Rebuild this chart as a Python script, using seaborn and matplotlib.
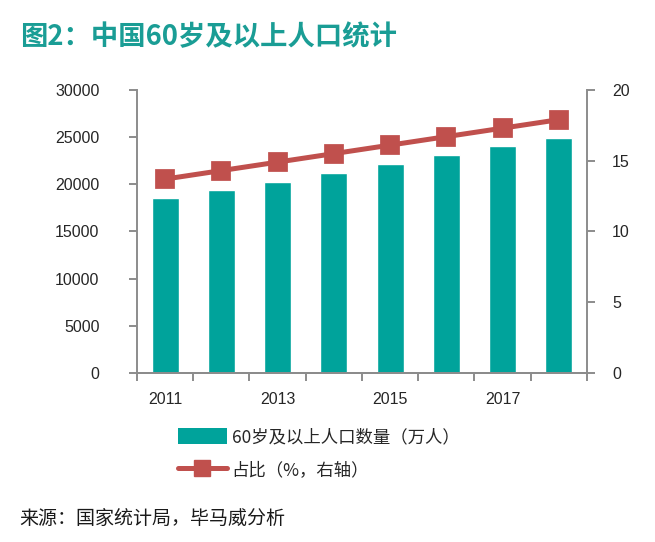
import matplotlib
matplotlib.use("Agg")
import matplotlib.pyplot as plt
from matplotlib.patches import Patch
from matplotlib.lines import Line2D
import pandas as pd
import seaborn as sns

# DATOS

years = ["2011", "2012", "2013", "2014", "2015", "2016", "2017", "2018"]
pop_60 = [18499, 19390, 20243, 21242, 22200, 23086, 24090, 24949]
share_pct = [13.7, 14.3, 14.9, 15.5, 16.1, 16.7, 17.3, 17.9]
shown_year_labels = ["2011", "2013", "2015", "2017"]

df = pd.DataFrame({"year": years, "pop": pop_60, "share": share_pct})

TEAL = "#00a39b"
RED = "#c0504d"
GREY = "#8c8c8c"

sns.set_style("white")
plt.rcParams["font.family"] = ["Noto Sans CJK SC", "DejaVu Sans"]
NUM_FONT = ["Liberation Sans", "DejaVu Sans"]

fig = plt.figure(figsize=(6.55, 5.42), dpi=100)
ax = fig.add_axes([0.209, 0.312, 0.687, 0.522])

# BARRAS

sns.barplot(data=df, x="year", y="pop", color=TEAL, width=0.48,
            saturation=1, ax=ax)

# LINEA (EJE DERECHO)

ax2 = ax.twinx()
sns.pointplot(data=df, x="year", y="share", color=RED, markers="s",
              markersize=12, linewidth=3.6, ax=ax2)

ax.set_xlim(-0.5, len(years) - 0.5)
ax.set_ylim(0, 30000)
ax.set_yticks(range(0, 30001, 5000))
ax2.set_ylim(0, 20)
ax2.set_yticks(range(0, 21, 5))

for a in (ax, ax2):
    a.set_xlabel("")
    a.set_ylabel("")
    for s in a.spines.values():
        s.set_color(GREY)
        s.set_linewidth(1.4)
    a.spines["top"].set_visible(False)

ax.spines["right"].set_visible(False)
ax2.spines["left"].set_visible(False)

# ticks en los limites de categoria, etiquetas en barras alternas
ax.set_xticks([i - 0.5 for i in range(len(years) + 1)])
ax.set_xticklabels([])
label_pos = [years.index(y) for y in shown_year_labels]
ax.set_xticks(label_pos, minor=True)
ax.set_xticklabels(shown_year_labels, minor=True, fontsize=11.5, family=NUM_FONT)
ax.tick_params(axis="x", which="major", length=6, width=1.4, color=GREY,
               direction="out", bottom=True)
ax.tick_params(axis="x", which="minor", length=0, pad=14)

ax.tick_params(axis="y", length=6, width=1.4, color=GREY, direction="out",
               left=True, pad=21)
ax2.tick_params(axis="y", length=6, width=1.4, color=GREY, direction="out",
                right=True, pad=12)
for lab in ax.get_yticklabels() + ax2.get_yticklabels():
    lab.set_fontfamily(NUM_FONT)
    lab.set_fontsize(11.5)

# TITULO Y FUENTE

fig.text(0.030, 0.932, "图2：中国60岁及以上人口统计", fontsize=19.7,
         fontweight="bold", color="#1a9d95", va="center", ha="left")
fig.text(0.030, 0.043, "来源：国家统计局，毕马威分析", fontsize=13.7,
         color="#1a1a1a", va="center", ha="left")

# LEYENDA

handles = [
    Patch(facecolor=TEAL, edgecolor="none"),
    Line2D([0], [0], color=RED, linewidth=3.6, marker="s", markersize=11),
]
labels = ["60岁及以上人口数量（万人）", "占比（%，右轴）"]
fig.legend(handles, labels, loc="upper left", bbox_to_anchor=(0.261, 0.223),
           frameon=False, fontsize=12.5, handlelength=2.8, handleheight=1.0,
           handletextpad=0.3, labelspacing=0.85, borderaxespad=0)

fig.savefig("out.png", dpi=100)
